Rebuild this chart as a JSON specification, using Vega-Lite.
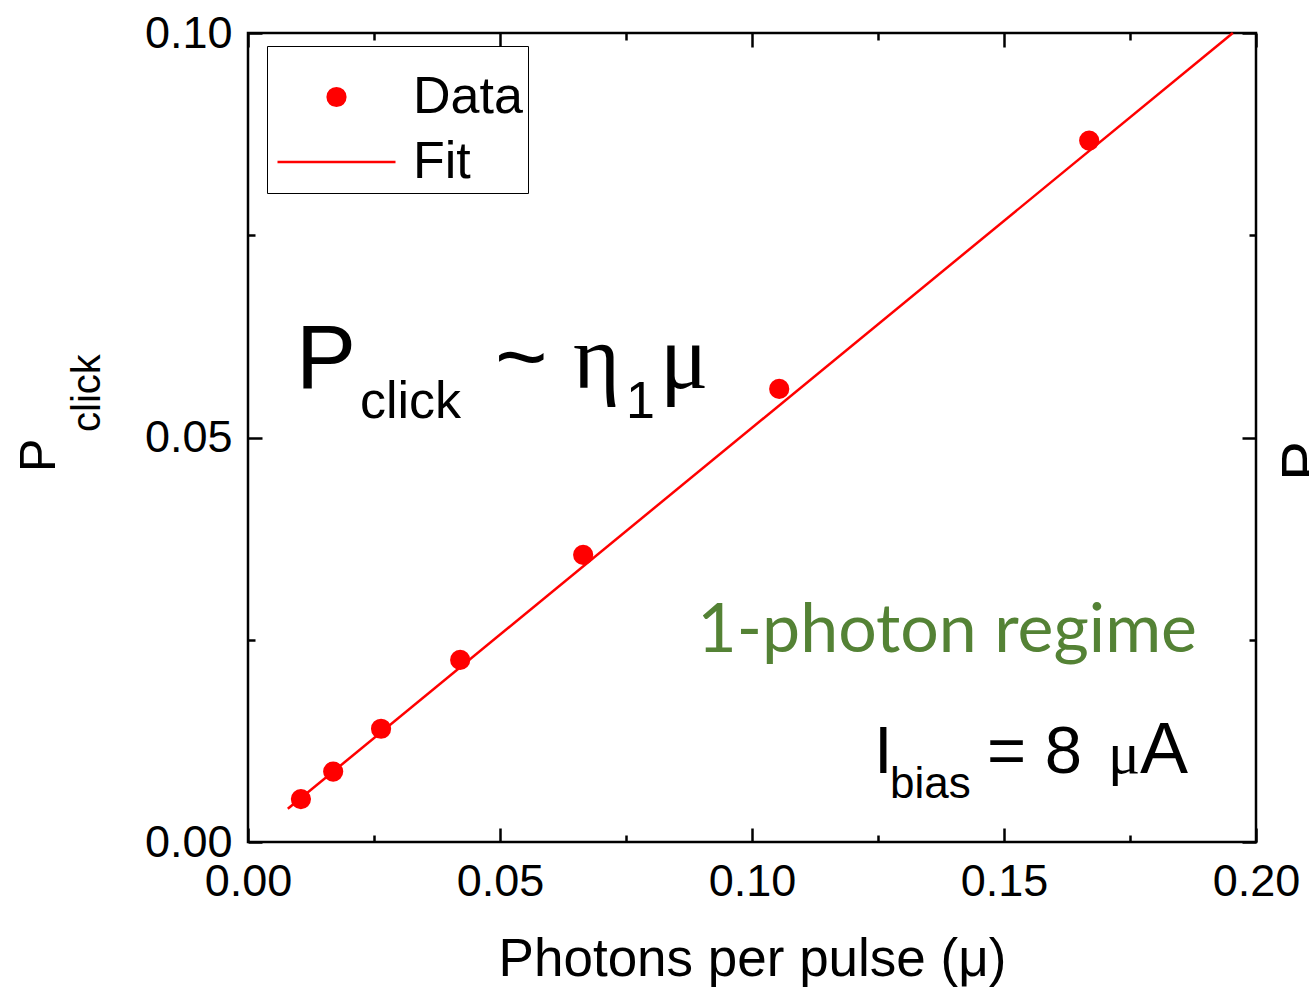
{
  "$schema": "https://vega.github.io/schema/vega-lite/v6.json",
  "width": 1008,
  "height": 809,
  "autosize": {"type": "none"},
  "padding": {"left": 248, "top": 33, "right": 53, "bottom": 147},
  "background": "white",
  "config": {
    "view": {"stroke": "black", "strokeWidth": 2.5},
    "font": "Liberation Sans",
    "axis": {
      "grid": false,
      "domain": false,
      "tickColor": "black",
      "tickWidth": 2.5,
      "labelFont": "Liberation Sans",
      "labelFontSize": 45,
      "labelColor": "black",
      "labelFlush": false,
      "labelOverlap": false,
      "titleFont": "Liberation Sans",
      "titleFontSize": 53,
      "titleFontWeight": "normal",
      "titleColor": "black"
    },
    "text": {"font": "Liberation Sans", "color": "black", "baseline": "alphabetic", "align": "left"}
  },
  "datasets": {
    "measured": [
      {"mu": 0.0105, "p": 0.0053},
      {"mu": 0.0169, "p": 0.0087},
      {"mu": 0.0264, "p": 0.0140},
      {"mu": 0.0421, "p": 0.0225},
      {"mu": 0.0665, "p": 0.0355},
      {"mu": 0.1054, "p": 0.0560},
      {"mu": 0.1669, "p": 0.0867}
    ],
    "fit": [
      {"mu": 0.0079, "p": 0.0041},
      {"mu": 0.1954, "p": 0.1}
    ],
    "formulaBig": [
      {"t": "P", "x": 0.00952, "y": 0.05612},
      {"t": "~", "x": 0.04901, "y": 0.05612}
    ],
    "formulaGreek": [
      {"t": "η", "x": 0.06448, "y": 0.05612},
      {"t": "μ", "x": 0.08175, "y": 0.05612}
    ],
    "formulaSub": [
      {"t": "click", "x": 0.02222, "y": 0.05241},
      {"t": "1", "x": 0.075, "y": 0.05241}
    ],
    "biasMain": [
      {"t": "I", "x": 0.1242, "y": 0.00853},
      {"t": "= 8", "x": 0.14663, "y": 0.00853}
    ],
    "biasUnit": [
      {"t": "A", "x": 0.17698, "y": 0.00853}
    ],
    "biasGreek": [
      {"t": "μ", "x": 0.17063, "y": 0.00853}
    ],
    "biasSub": [
      {"t": "bias", "x": 0.12738, "y": 0.00544}
    ],
    "regime": [
      {"t": "1-photon regime", "x": 0.18829, "y": 0.02349}
    ],
    "yTitleMain": [
      {"t": "P", "x": -0.03829, "y": 0.04574}
    ],
    "yTitleSub": [
      {"t": "click", "x": -0.02937, "y": 0.05068}
    ],
    "nextPanelTitle": [
      {"t": "P", "x": 0.21329, "y": 0.04462}
    ]
  },
  "resolve": {"axis": {"x": "independent", "y": "independent"}},
  "layer": [
    {
      "data": {"name": "fit"},
      "mark": {"type": "line", "color": "red", "strokeWidth": 2.5},
      "encoding": {
        "x": {
          "field": "mu", "type": "quantitative",
          "scale": {"domain": [0, 0.2]},
          "axis": {"orient": "bottom", "values": [0, 0.05, 0.1, 0.15, 0.2], "tickSize": -14, "format": ".2f", "labelPadding": 31, "title": "Photons per pulse (μ)", "titlePadding": 29}
        },
        "y": {
          "field": "p", "type": "quantitative",
          "scale": {"domain": [0, 0.1]},
          "axis": {"orient": "left", "values": [0, 0.05, 0.1], "tickSize": -14, "format": ".2f", "labelPadding": 30, "title": null}
        }
      }
    },
    {
      "data": {"name": "measured"},
      "mark": {"type": "point", "filled": true, "color": "red", "stroke": "red", "strokeWidth": 2.5, "size": 13924, "opacity": 1},
      "encoding": {
        "x": {
          "field": "mu", "type": "quantitative",
          "scale": {"domain": [0, 0.2]},
          "axis": {"orient": "bottom", "values": [0.025, 0.075, 0.125, 0.175], "tickSize": -7, "labels": false, "title": null}
        },
        "y": {
          "field": "p", "type": "quantitative",
          "scale": {"domain": [0, 0.1]},
          "axis": {"orient": "left", "values": [0.025, 0.075], "tickSize": -7, "labels": false, "title": null}
        },
        "shape": {
          "datum": "Data", "type": "nominal",
          "scale": {"domain": ["Data", "Fit"], "range": ["M-0.15,0A0.15,0.15,0,1,1,0.15,0A0.15,0.15,0,1,1,-0.15,0Z", "M-1,0H1"]},
          "legend": {
            "title": "\u00a0",
            "titleFontSize": 14,
            "titlePadding": 6,
            "orient": "none",
            "legendX": 19,
            "legendY": 13,
            "padding": 5,
            "strokeColor": "black",
            "fillColor": "white",
            "symbolSize": 13924,
            "symbolStrokeWidth": 2.5,
            "symbolOffset": 4,
            "labelOffset": 16,
            "labelFont": "Liberation Sans",
            "labelFontSize": 52,
            "labelColor": "black",
            "rowPadding": 13,
            "clipHeight": 52,
            "encode": {
              "symbols": {
                "update": {
                  "fill": {"value": "red"},
                  "stroke": {"value": "red"},
                  "strokeWidth": {"value": 2.5},
                  "opacity": {"value": 1}
                }
              }
            }
          }
        }
      }
    },
    {
      "data": {"name": "formulaBig"},
      "mark": {"type": "text", "fontSize": 90},
      "encoding": {
        "x": {
          "field": "x", "type": "quantitative",
          "scale": {"domain": [0, 0.2]},
          "axis": {"orient": "top", "values": [0, 0.05, 0.1, 0.15, 0.2], "tickSize": -14, "labels": false, "title": null}
        },
        "y": {
          "field": "y", "type": "quantitative",
          "scale": {"domain": [0, 0.1]},
          "axis": {"orient": "right", "values": [0, 0.05, 0.1], "tickSize": -14, "labels": false, "title": null}
        },
        "text": {"field": "t"}
      }
    },
    {
      "data": {"name": "formulaGreek"},
      "mark": {"type": "text", "fontSize": 90, "font": "Liberation Serif"},
      "encoding": {
        "x": {
          "field": "x", "type": "quantitative",
          "scale": {"domain": [0, 0.2]},
          "axis": {"orient": "top", "values": [0.025, 0.075, 0.125, 0.175], "tickSize": -7, "labels": false, "title": null}
        },
        "y": {
          "field": "y", "type": "quantitative",
          "scale": {"domain": [0, 0.1]},
          "axis": {"orient": "right", "values": [0.025, 0.075], "tickSize": -7, "labels": false, "title": null}
        },
        "text": {"field": "t"}
      }
    },
    {
      "data": {"name": "formulaSub"},
      "mark": {"type": "text", "fontSize": 52},
      "encoding": {
        "x": {"field": "x", "type": "quantitative", "scale": {"domain": [0, 0.2]}, "axis": null},
        "y": {"field": "y", "type": "quantitative", "scale": {"domain": [0, 0.1]}, "axis": null},
        "text": {"field": "t"}
      }
    },
    {
      "data": {"name": "biasMain"},
      "mark": {"type": "text", "fontSize": 67},
      "encoding": {
        "x": {"field": "x", "type": "quantitative", "scale": {"domain": [0, 0.2]}, "axis": null},
        "y": {"field": "y", "type": "quantitative", "scale": {"domain": [0, 0.1]}, "axis": null},
        "text": {"field": "t"}
      }
    },
    {
      "data": {"name": "biasUnit"},
      "mark": {"type": "text", "fontSize": 72},
      "encoding": {
        "x": {"field": "x", "type": "quantitative", "scale": {"domain": [0, 0.2]}, "axis": null},
        "y": {"field": "y", "type": "quantitative", "scale": {"domain": [0, 0.1]}, "axis": null},
        "text": {"field": "t"}
      }
    },
    {
      "data": {"name": "biasGreek"},
      "mark": {"type": "text", "fontSize": 60, "font": "Liberation Serif"},
      "encoding": {
        "x": {"field": "x", "type": "quantitative", "scale": {"domain": [0, 0.2]}, "axis": null},
        "y": {"field": "y", "type": "quantitative", "scale": {"domain": [0, 0.1]}, "axis": null},
        "text": {"field": "t"}
      }
    },
    {
      "data": {"name": "biasSub"},
      "mark": {"type": "text", "fontSize": 44},
      "encoding": {
        "x": {"field": "x", "type": "quantitative", "scale": {"domain": [0, 0.2]}, "axis": null},
        "y": {"field": "y", "type": "quantitative", "scale": {"domain": [0, 0.1]}, "axis": null},
        "text": {"field": "t"}
      }
    },
    {
      "data": {"name": "regime"},
      "mark": {"type": "text", "fontSize": 68, "font": "Lato", "color": "#548235", "align": "right"},
      "encoding": {
        "x": {"field": "x", "type": "quantitative", "scale": {"domain": [0, 0.2]}, "axis": null},
        "y": {"field": "y", "type": "quantitative", "scale": {"domain": [0, 0.1]}, "axis": null},
        "text": {"field": "t"}
      }
    },
    {
      "data": {"name": "yTitleMain"},
      "mark": {"type": "text", "fontSize": 50, "angle": 270},
      "encoding": {
        "x": {"field": "x", "type": "quantitative", "scale": {"domain": [0, 0.2]}, "axis": null},
        "y": {"field": "y", "type": "quantitative", "scale": {"domain": [0, 0.1]}, "axis": null},
        "text": {"field": "t"}
      }
    },
    {
      "data": {"name": "yTitleSub"},
      "mark": {"type": "text", "fontSize": 40, "angle": 270},
      "encoding": {
        "x": {"field": "x", "type": "quantitative", "scale": {"domain": [0, 0.2]}, "axis": null},
        "y": {"field": "y", "type": "quantitative", "scale": {"domain": [0, 0.1]}, "axis": null},
        "text": {"field": "t"}
      }
    },
    {
      "data": {"name": "nextPanelTitle"},
      "mark": {"type": "text", "fontSize": 60, "angle": 270},
      "encoding": {
        "x": {"field": "x", "type": "quantitative", "scale": {"domain": [0, 0.2]}, "axis": null},
        "y": {"field": "y", "type": "quantitative", "scale": {"domain": [0, 0.1]}, "axis": null},
        "text": {"field": "t"}
      }
    }
  ]
}
